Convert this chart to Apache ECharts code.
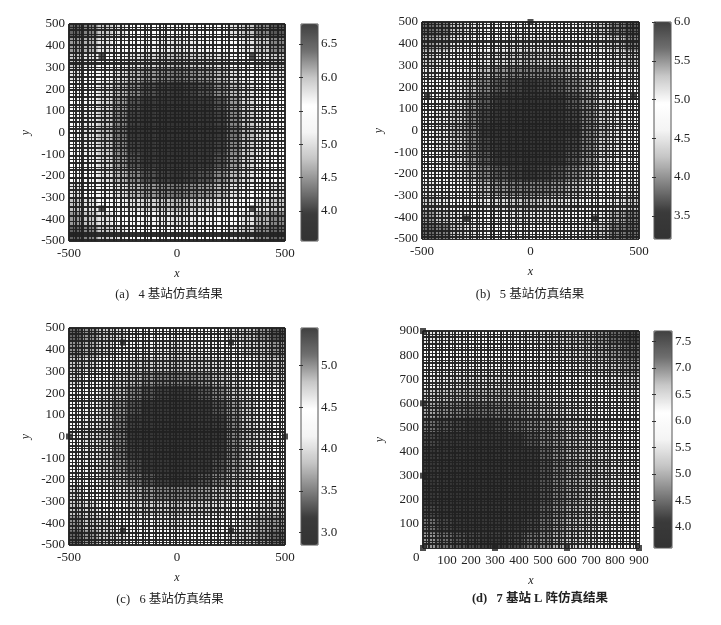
<!DOCTYPE html>
<html><head><meta charset="utf-8">
<style>html,body{margin:0;padding:0;background:#fff}#c{width:721px;height:625px;filter:blur(0.45px)}</style>
<script src="https://cdn.jsdelivr.net/npm/echarts@6/dist/echarts.min.js"></script>
</head><body><div id="c"></div>
<script>
const heatA=[
[6.5,6.3,6.0,5.8,5.6,5.5,5.4,5.3,5.4,5.5,5.6,5.8,6.0,6.3,6.6],
[6.2,6.1,5.8,5.6,5.4,5.2,5.1,5.0,5.1,5.2,5.4,5.6,5.8,6.0,6.3],
[6.0,5.8,5.6,5.3,5.0,4.9,4.8,4.7,4.8,4.9,5.0,5.3,5.6,5.8,6.0],
[5.8,5.6,5.3,5.0,4.7,4.5,4.4,4.3,4.4,4.5,4.7,5.0,5.3,5.6,5.8],
[5.6,5.4,5.0,4.7,4.4,4.1,4.0,3.9,4.0,4.1,4.4,4.7,5.0,5.4,5.6],
[5.5,5.2,4.9,4.5,4.1,3.9,3.8,3.7,3.8,3.9,4.1,4.5,4.9,5.2,5.5],
[5.4,5.1,4.8,4.4,4.0,3.8,3.7,3.6,3.7,3.8,4.0,4.4,4.8,5.1,5.4],
[5.3,5.0,4.7,4.3,3.9,3.7,3.6,3.6,3.6,3.7,3.9,4.3,4.7,5.0,5.3],
[5.4,5.1,4.8,4.4,4.0,3.8,3.7,3.6,3.7,3.8,4.0,4.4,4.8,5.1,5.4],
[5.5,5.2,4.9,4.5,4.1,3.9,3.8,3.7,3.8,3.9,4.1,4.5,4.9,5.2,5.5],
[5.6,5.4,5.0,4.7,4.4,4.1,4.0,3.9,4.0,4.1,4.4,4.7,5.0,5.4,5.6],
[5.8,5.6,5.3,5.0,4.7,4.5,4.4,4.3,4.4,4.5,4.7,5.0,5.3,5.6,5.8],
[6.0,5.8,5.6,5.3,5.0,4.9,4.8,4.7,4.8,4.9,5.0,5.3,5.6,5.8,6.0],
[6.2,6.0,5.8,5.6,5.4,5.2,5.1,5.0,5.1,5.2,5.4,5.6,5.8,6.1,6.3],
[6.5,6.3,6.0,5.8,5.6,5.5,5.4,5.3,5.4,5.5,5.6,5.8,6.0,6.3,6.5]];
const heatB=[
[5.7,5.6,5.3,5.1,5.0,4.9,4.8,4.7,4.8,4.9,5.0,5.1,5.3,5.6,5.8],
[5.5,5.4,5.1,5.0,4.8,4.6,4.5,4.5,4.5,4.6,4.8,5.0,5.1,5.3,5.6],
[5.3,5.1,5.0,4.7,4.5,4.4,4.3,4.2,4.3,4.4,4.5,4.7,5.0,5.1,5.3],
[5.1,5.0,4.7,4.5,4.2,4.0,3.9,3.9,3.9,4.0,4.2,4.5,4.7,5.0,5.1],
[5.0,4.8,4.5,4.2,3.9,3.7,3.6,3.5,3.6,3.7,3.9,4.2,4.5,4.8,5.0],
[4.9,4.6,4.4,4.0,3.7,3.5,3.4,3.3,3.4,3.5,3.7,4.0,4.4,4.6,4.9],
[4.8,4.5,4.3,3.9,3.6,3.4,3.3,3.3,3.3,3.4,3.6,3.9,4.3,4.5,4.8],
[4.7,4.5,4.2,3.9,3.5,3.3,3.3,3.2,3.3,3.3,3.5,3.9,4.2,4.5,4.7],
[4.8,4.5,4.3,3.9,3.6,3.4,3.3,3.3,3.3,3.4,3.6,3.9,4.3,4.5,4.8],
[4.9,4.6,4.4,4.0,3.7,3.5,3.4,3.3,3.4,3.5,3.7,4.0,4.4,4.6,4.9],
[5.0,4.8,4.5,4.2,3.9,3.7,3.6,3.5,3.6,3.7,3.9,4.2,4.5,4.8,5.0],
[5.1,5.0,4.7,4.5,4.2,4.0,3.9,3.9,3.9,4.0,4.2,4.5,4.7,5.0,5.1],
[5.3,5.1,5.0,4.7,4.5,4.4,4.3,4.2,4.3,4.4,4.5,4.7,5.0,5.1,5.3],
[5.5,5.3,5.1,5.0,4.8,4.6,4.5,4.5,4.5,4.6,4.8,5.0,5.1,5.4,5.6],
[5.7,5.6,5.3,5.1,5.0,4.9,4.8,4.7,4.8,4.9,5.0,5.1,5.3,5.6,5.7]];
const heatC=[
[5.2,5.0,4.8,4.7,4.5,4.4,4.4,4.3,4.4,4.4,4.5,4.7,4.8,5.0,5.3],
[5.0,4.9,4.7,4.5,4.4,4.2,4.1,4.0,4.1,4.2,4.4,4.5,4.7,4.8,5.0],
[4.8,4.7,4.5,4.3,4.0,3.9,3.9,3.8,3.9,3.9,4.0,4.3,4.5,4.7,4.8],
[4.7,4.5,4.3,4.0,3.8,3.6,3.5,3.5,3.5,3.6,3.8,4.0,4.3,4.5,4.7],
[4.5,4.4,4.0,3.8,3.5,3.3,3.2,3.1,3.2,3.3,3.5,3.8,4.0,4.4,4.5],
[4.4,4.2,3.9,3.6,3.3,3.1,3.1,3.0,3.1,3.1,3.3,3.6,3.9,4.2,4.4],
[4.4,4.1,3.9,3.5,3.2,3.1,3.0,2.9,3.0,3.1,3.2,3.5,3.9,4.1,4.4],
[4.3,4.0,3.8,3.5,3.1,3.0,2.9,2.9,2.9,3.0,3.1,3.5,3.8,4.0,4.3],
[4.4,4.1,3.9,3.5,3.2,3.1,3.0,2.9,3.0,3.1,3.2,3.5,3.9,4.1,4.4],
[4.4,4.2,3.9,3.6,3.3,3.1,3.1,3.0,3.1,3.1,3.3,3.6,3.9,4.2,4.4],
[4.5,4.4,4.0,3.8,3.5,3.3,3.2,3.1,3.2,3.3,3.5,3.8,4.0,4.4,4.5],
[4.7,4.5,4.3,4.0,3.8,3.6,3.5,3.5,3.5,3.6,3.8,4.0,4.3,4.5,4.7],
[4.8,4.7,4.5,4.3,4.0,3.9,3.9,3.8,3.9,3.9,4.0,4.3,4.5,4.7,4.8],
[5.0,4.8,4.7,4.5,4.4,4.2,4.1,4.0,4.1,4.2,4.4,4.5,4.7,4.9,5.0],
[5.2,5.0,4.8,4.7,4.5,4.4,4.4,4.3,4.4,4.4,4.5,4.7,4.8,5.0,5.2]];
const heatD=[
[6.4,6.4,6.3,6.2,6.2,6.2,6.3,6.4,6.5,6.6,6.7,6.8,7.0,7.3,7.6],
[6.2,6.1,6.0,6.0,6.0,6.0,6.1,6.2,6.3,6.4,6.5,6.6,6.8,7.0,7.3],
[5.9,5.8,5.7,5.7,5.7,5.8,5.8,5.9,6.0,6.2,6.3,6.4,6.5,6.7,6.9],
[5.6,5.5,5.4,5.4,5.4,5.4,5.5,5.6,5.7,5.9,6.0,6.2,6.3,6.4,6.6],
[5.2,5.1,5.0,5.0,5.0,5.0,5.1,5.2,5.4,5.6,5.8,5.9,6.1,6.2,6.4],
[4.9,4.7,4.6,4.5,4.5,4.6,4.7,4.9,5.1,5.3,5.5,5.7,5.9,6.0,6.2],
[4.5,4.3,4.2,4.1,4.1,4.2,4.4,4.6,4.8,5.0,5.3,5.5,5.7,5.9,6.0],
[4.2,4.0,3.9,3.9,3.9,3.9,4.0,4.3,4.6,4.8,5.1,5.3,5.5,5.7,5.9],
[4.0,3.9,3.8,3.7,3.7,3.8,3.9,4.1,4.4,4.7,5.0,5.2,5.4,5.6,5.8],
[3.9,3.8,3.7,3.7,3.7,3.7,3.8,4.0,4.3,4.6,4.9,5.1,5.3,5.5,5.7],
[3.9,3.8,3.7,3.6,3.6,3.7,3.8,4.0,4.3,4.6,4.9,5.1,5.3,5.5,5.7],
[4.0,3.8,3.7,3.7,3.7,3.7,3.8,4.0,4.3,4.6,4.9,5.2,5.4,5.6,5.8],
[4.2,4.0,3.8,3.8,3.8,3.8,3.9,4.1,4.4,4.7,5.0,5.2,5.4,5.6,5.9],
[4.5,4.2,4.0,3.9,3.9,3.9,4.0,4.2,4.5,4.8,5.1,5.3,5.6,5.8,6.0],
[4.8,4.5,4.3,4.2,4.1,4.1,4.2,4.5,4.7,5.0,5.3,5.5,5.7,5.9,6.2]];
const meshXA=[-500,-482,-470,-452,-440,-436,-412,-398,-380,-352,-333,-315,-292,-280,-262,-245,-222,-205,-190,-172,-150,-138,-120,-98,-82,-62,-50,-30,-12,4,22,40,55,75,92,110,128,148,165,182,205,222,240,262,280,296,318,335,358,375,392,410,428,445,468,482,500];
const meshYA=[500,485,472,455,440,425,405,388,368,350,335,322,318,300,288,272,258,240,225,208,195,180,165,148,130,115,98,85,68,52,48,30,15,0,-3,-20,-38,-55,-70,-88,-105,-122,-140,-158,-172,-190,-208,-212,-230,-248,-262,-280,-300,-320,-342,-365,-385,-408,-428,-448,-462,-470,-478,-490,-500];
const meshXB=[-500,-488,-472,-458,-440,-425,-408,-395,-378,-360,-345,-330,-312,-298,-282,-268,-250,-236,-218,-202,-185,-172,-168,-150,-135,-118,-102,-88,-70,-55,-38,-22,-8,10,25,42,58,72,90,106,120,138,152,170,186,200,218,232,250,265,282,298,312,330,345,362,378,392,410,425,442,458,472,488,500];
const meshYB=[500,488,475,458,445,428,412,408,392,378,360,345,330,315,298,285,268,252,238,222,205,190,175,160,145,142,125,110,95,80,62,48,32,18,2,-12,-28,-45,-60,-75,-92,-108,-122,-140,-155,-170,-185,-202,-218,-232,-250,-265,-282,-298,-312,-330,-348,-352,-368,-385,-400,-418,-432,-448,-462,-478,-490,-500];
const meshXC=[-500,-486,-470,-455,-442,-428,-410,-396,-380,-365,-348,-332,-318,-302,-288,-270,-255,-240,-224,-208,-192,-178,-160,-146,-130,-112,-98,-82,-66,-50,-34,-18,-4,12,28,44,60,76,92,108,124,138,155,172,188,202,220,235,250,268,282,298,315,330,346,362,378,394,410,426,440,458,474,488,500];
const meshYC=[500,486,472,456,442,426,410,394,380,364,348,334,318,302,288,272,256,240,226,210,194,178,164,148,132,116,102,86,70,54,38,24,20,6,-10,-26,-42,-56,-72,-88,-104,-120,-134,-150,-166,-182,-196,-212,-228,-244,-258,-274,-290,-306,-328,-332,-348,-364,-380,-396,-412,-426,-442,-458,-474,-488,-500];
const meshXD=[0,14,26,40,54,66,80,94,108,120,134,148,162,174,188,202,216,228,242,256,268,282,296,310,322,336,350,364,376,390,404,418,430,444,458,470,484,498,512,524,538,552,566,578,592,606,618,632,646,660,672,686,700,714,726,740,754,766,780,794,808,820,834,848,862,874,888,900];
const meshYD=[900,888,876,862,848,834,822,808,794,780,768,754,740,728,714,700,686,674,660,646,632,620,606,592,580,566,552,538,530,516,502,488,476,462,448,436,422,408,394,382,368,354,340,328,314,300,286,274,260,246,232,220,206,192,178,166,152,138,124,112,98,84,70,58,44,30,16,0];
const stationsA=[[-350,350],[350,350],[-350,-350],[350,-350]];
const stationsB=[[0,500],[-475,155],[475,155],[-294,-405],[294,-405]];
const stationsC=[[500,0],[250,433],[-250,433],[-500,0],[-250,-433],[250,-433]];
const stationsD=[[0,0],[300,0],[600,0],[900,0],[0,300],[0,600],[0,900]];
const ticksA=[4.0,4.5,5.0,5.5,6.0,6.5];
const ticksB=[3.5,4.0,4.5,5.0,5.5,6.0];
const ticksC=[3.0,3.5,4.0,4.5,5.0];
const ticksD=[4.0,4.5,5.0,5.5,6.0,6.5,7.0,7.5];
const captions=['(a)   4 基站仿真结果','(b)   5 基站仿真结果','(c)   6 基站仿真结果','(d)   7 基站 L 阵仿真结果'];
const grayRamp=['#333333','#3a3a3a','#808080','#c4c4c4','#f4f4f4','#ffffff','#c8c8c8','#707070','#404040'];

const FONT='"Liberation Serif","Noto Sans CJK SC",serif';
const panels=[
 {heat:heatA,mx:meshXA,my:meshYA,st:stationsA,ticks:ticksA,vmin:3.55,vmax:6.8,l:69,t:24,w:216,h:217,cb:301,cbw:17,xr:[-500,500,500],yr:[-500,500,100],cap:[169,295]},
 {heat:heatB,mx:meshXB,my:meshYB,st:stationsB,ticks:ticksB,vmin:3.2,vmax:6.0,l:422,t:22,w:217,h:217,cb:654,cbw:17,xr:[-500,500,500],yr:[-500,500,100],cap:[530,295]},
 {heat:heatC,mx:meshXC,my:meshYC,st:stationsC,ticks:ticksC,vmin:2.85,vmax:5.45,l:69,t:328,w:216,h:217,cb:301,cbw:17,xr:[-500,500,500],yr:[-500,500,100],cap:[170,600]},
 {heat:heatD,mx:meshXD,my:meshYD,st:stationsD,ticks:ticksD,vmin:3.6,vmax:7.7,l:423,t:331,w:216,h:217,cb:654,cbw:18,xr:[0,900,100],yr:[0,900,100],cap:[540,599]}
];
const opt={animation:false,backgroundColor:'#fff',grid:[],xAxis:[],yAxis:[],series:[],visualMap:[],title:[]};
const lab={fontFamily:FONT,fontSize:13,color:'#222'};
const heavy=i=>({lineStyle:{type:'solid',color:'#222',opacity:.95,width:i%2?1:2}});
panels.forEach((p,k)=>{
  const g=opt.grid.length;
  opt.grid.push({left:p.l,top:p.t,width:p.w,height:p.h,containLabel:false});
  const xCat=opt.xAxis.length;
  opt.xAxis.push({gridIndex:g,type:'category',position:'top',show:false,data:p.heat[0].map((_,i)=>i)});
  const xVal=opt.xAxis.length;
  opt.xAxis.push({gridIndex:g,type:'value',position:'bottom',min:p.xr[0],max:p.xr[1],interval:p.xr[2],splitLine:{show:false},axisLine:{show:false},axisTick:{show:false},
    axisLabel:Object.assign({},lab,{margin:6,formatter:v=>(k===3&&v===0)?'':v}),name:'x',nameLocation:'middle',nameGap:27,nameTextStyle:{fontFamily:FONT,fontStyle:'italic',fontSize:12,color:'#222'}});
  const yCat=opt.yAxis.length;
  opt.yAxis.push({gridIndex:g,type:'category',position:'right',inverse:true,show:false,data:p.heat.map((_,i)=>i)});
  const yVal=opt.yAxis.length;
  opt.yAxis.push({gridIndex:g,type:'value',position:'left',min:p.yr[0],max:p.yr[1],interval:p.yr[2],splitLine:{show:false},axisLine:{show:false},axisTick:{show:false},
    axisLabel:Object.assign({},lab,{margin:4,formatter:v=>(k===3&&v===0)?'':v}),name:'y',nameLocation:'middle',nameGap:37,nameTextStyle:{fontFamily:FONT,fontStyle:'italic',fontSize:12,color:'#222'}});
  const data=[];
  p.heat.forEach((row,j)=>row.forEach((v,i)=>data.push([i,j,v])));
  const hs=opt.series.length;
  opt.series.push({type:'heatmap',xAxisIndex:xCat,yAxisIndex:yCat,data,z:1,silent:true,progressive:0,itemStyle:{borderWidth:0}});
  const lines=p.mx.map((v,i)=>Object.assign({xAxis:v},heavy(i))).concat(p.my.map((v,i)=>Object.assign({yAxis:v},heavy(i))));
  opt.series.push({type:'scatter',xAxisIndex:xVal,yAxisIndex:yVal,data:p.st,z:3,symbol:'rect',symbolSize:6,clip:false,silent:true,
    itemStyle:{color:'#222'},
    markLine:{silent:true,symbol:'none',animation:false,z:2,label:{show:false},lineStyle:{type:'solid',width:1,color:'#222'},data:lines}});
  opt.visualMap.push({type:'continuous',seriesIndex:hs,min:p.vmin,max:p.vmax,left:p.cb,top:p.t,itemWidth:p.cbw,itemHeight:p.h,padding:0,calculable:false,text:null,
    inRange:{color:grayRamp},show:true,hoverLink:false,realtime:false,textStyle:{color:'transparent',fontSize:1}});
  const gc=opt.grid.length;
  opt.grid.push({left:p.cb,top:p.t,width:p.cbw,height:p.h,show:true,borderColor:'#555',borderWidth:1,backgroundColor:'transparent',z:8});
  opt.xAxis.push({gridIndex:gc,type:'value',show:false,min:0,max:1});
  const tickSet={show:true,inside:true,length:2,customValues:p.ticks,lineStyle:{color:'#333'}};
  opt.yAxis.push({gridIndex:gc,type:'value',position:'right',min:p.vmin,max:p.vmax,z:9,splitLine:{show:false},axisLine:{show:false},axisTick:tickSet,
    axisLabel:Object.assign({},lab,{margin:3,customValues:p.ticks,formatter:v=>v.toFixed(1),showMinLabel:true,showMaxLabel:true,hideOverlap:false})});
  opt.yAxis.push({gridIndex:gc,type:'value',position:'left',min:p.vmin,max:p.vmax,z:9,splitLine:{show:false},axisLine:{show:false},axisTick:tickSet,axisLabel:{show:false}});
  opt.title.push({text:captions[k],left:p.cap[0],top:p.cap[1],textAlign:'center',textVerticalAlign:'middle',textStyle:{fontFamily:FONT,fontSize:12.5,fontWeight:k===3?'bold':'normal',color:'#222'},padding:0});
});
opt.graphic=[{type:'text',left:413,top:551,style:{text:'0',font:'13px "Liberation Serif"',fill:'#222'}}];
echarts.init(document.getElementById('c'),null,{renderer:'canvas'}).setOption(opt);
</script></body></html>
